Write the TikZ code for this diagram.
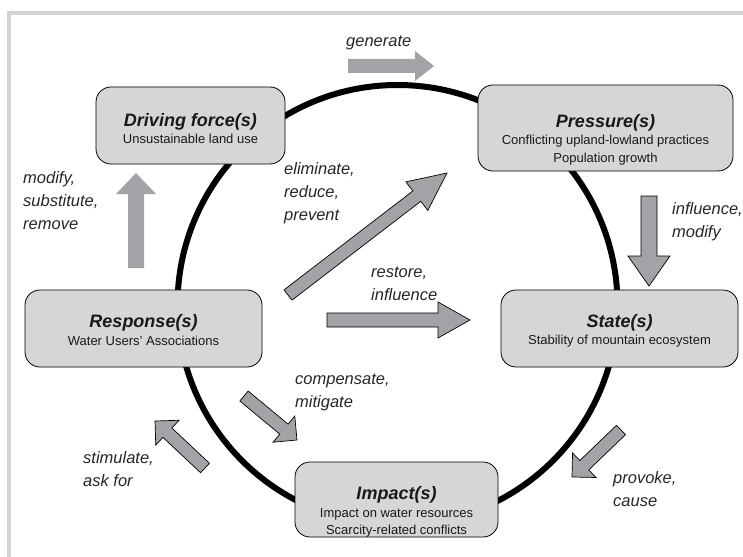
\documentclass[tikz,border=0pt]{standalone}
\usepackage{fontspec}
\setmainfont{Liberation Sans}
\usetikzlibrary{calc}
\definecolor{boxfill}{HTML}{D6D6D6}
\definecolor{arrfill}{HTML}{A2A3A6}
\definecolor{framegray}{HTML}{D4D4D4}
\newcommand\blkarrow[6]{% #1 style, #2 tail, #3 tip, #4 body half, #5 head half, #6 head length
  \path let \p1=($(#3)-(#2)$) in \pgfextra{\pgfmathsetmacro\baAng{atan2(\y1,\x1)}\pgfmathsetmacro\baLen{veclen(\x1,\y1)}\xdef\baAng{\baAng}\xdef\baLen{\baLen}};
  \path[#1,shift={(#2)},rotate=\baAng] (0,#4) -- ({\baLen-#6},#4) -- ({\baLen-#6},#5) -- (\baLen,0) -- ({\baLen-#6},-#5) -- ({\baLen-#6},-#4) -- (0,-#4) -- cycle;
}
\begin{document}
\begin{tikzpicture}[x=1pt,y=-1pt,
  box/.style={draw=black, line width=0.8pt, fill=boxfill, rounded corners=15pt, inner sep=0pt},
  ttl/.style={font=\fontsize{18}{20}\selectfont\bfseries\itshape, anchor=base, inner sep=0pt, text=black!90},
  sub/.style={font=\fontsize{13}{15}\selectfont, anchor=base, inner sep=0pt, text=black!90},
  lbl/.style={font=\fontsize{16.5}{19}\selectfont\itshape, anchor=base west, inner sep=0pt, text=black!85},
  plainarrow/.style={fill=arrfill},
  linedarrow/.style={fill=arrfill, draw=black, line width=0.7pt, line join=miter},
]
\useasboundingbox (0,0) rectangle (743,556);
\draw[framegray, line width=4.5pt] (745,13) -- (9,13) -- (9,558);
% cycle
\draw[line width=6pt] (397.5,305) circle[radius=220];
% boxes
\node[box, minimum width=189pt, minimum height=77pt] (drv) at (190.5,125.5) {};
\node[box, minimum width=255pt, minimum height=86pt] (prs) at (605.5,128) {};
\node[box, minimum width=237pt, minimum height=77pt] (rsp) at (143.5,328.5) {};
\node[box, minimum width=237pt, minimum height=77pt] (sta) at (619.5,328.5) {};
\node[box, minimum width=203pt, minimum height=75pt] (imp) at (396.5,499.5) {};
% box texts
\node[ttl] (drvT) at (190.5,127) {Driving force(s)};
\node[sub] (drvS) at (190.5,144) {Unsustainable land use};
\node[ttl] (prsT) at (605.5,128) {Pressure(s)};
\node[sub] (prsS1) at (605.5,145) {Conflicting upland-lowland practices};
\node[sub] (prsS2) at (605.5,163) {Population growth};
\node[ttl] (rspT) at (143.5,327) {Response(s)};
\node[sub] (rspS) at (143.5,345) {Water Users' Associations};
\node[ttl] (staT) at (619.5,327) {State(s)};
\node[sub] (staS) at (619.5,344) {Stability of mountain ecosystem};
\node[ttl] (impT) at (396.5,499) {Impact(s)};
\node[sub] (impS1) at (396.5,517) {Impact on water resources};
\node[sub] (impS2) at (396.5,534) {Scarcity-related conflicts};
% arrow end points
\coordinate (genA) at (348,66);  \coordinate (genB) at (434,66);
\coordinate (modA) at (136,268); \coordinate (modB) at (136,173);
\coordinate (eliA) at (288,295); \coordinate (eliB) at (447,173);
\coordinate (resA) at (327,320); \coordinate (resB) at (470,320);
\coordinate (infA) at (649,196); \coordinate (infB) at (649,286);
\coordinate (comA) at (244,396); \coordinate (comB) at (297,440);
\coordinate (stiA) at (205,468); \coordinate (stiB) at (155,421);
\coordinate (proA) at (621,430); \coordinate (proB) at (572,477);
% arrows
\blkarrow{plainarrow}{genA}{genB}{7}{15}{19}
\blkarrow{plainarrow}{modA}{modB}{8}{20}{21}
\blkarrow{linedarrow}{eliA}{eliB}{6.5}{18}{38}
\blkarrow{linedarrow}{resA}{resB}{7}{18}{32}
\blkarrow{linedarrow}{infA}{infB}{8}{21}{30}
\blkarrow{linedarrow}{comA}{comB}{6.5}{17}{17}
\blkarrow{linedarrow}{stiA}{stiB}{6.5}{17}{17}
\blkarrow{linedarrow}{proA}{proB}{6.5}{17}{17}
% labels
\node[lbl] (lgen) at (346,47) {generate};
\node[lbl] (lmod1) at (23,183) {modify,};
\node[lbl] (lmod2) at (23,206) {substitute,};
\node[lbl] (lmod3) at (23,229) {remove};
\node[lbl] (leli1) at (284,174) {eliminate,};
\node[lbl] (leli2) at (284,197) {reduce,};
\node[lbl] (leli3) at (284,220) {prevent};
\node[lbl] (lres1) at (371,277) {restore,};
\node[lbl] (lres2) at (371,300) {influence};
\node[lbl] (linf1) at (672,214) {influence,};
\node[lbl] (linf2) at (672,237) {modify};
\node[lbl] (lcom1) at (295,384) {compensate,};
\node[lbl] (lcom2) at (295,407) {mitigate};
\node[lbl] (lsti1) at (83,463) {stimulate,};
\node[lbl] (lsti2) at (83,486) {ask for};
\node[lbl] (lpro1) at (613,483) {provoke,};
\node[lbl] (lpro2) at (613,506) {cause};
\end{tikzpicture}
\end{document}
